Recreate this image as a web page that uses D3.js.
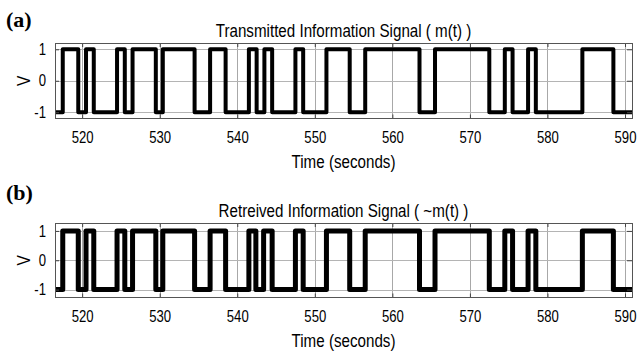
<!DOCTYPE html>
<html>
<head>
<meta charset="utf-8">
<script src="https://cdn.jsdelivr.net/npm/d3@7"></script>
<style>
  body { margin: 0; background: #fff; }
  text { font-family: "Liberation Sans", Arial, sans-serif; fill: #000; }
</style>
</head>
<body>
<script>
"use strict";
const width = 640, height = 354;
const plotLeft = 55, plotRight = 632;
const squeeze = 0.82; // narrow font look

// axis values
const xDomain = [516.5, 590.9];
const xTicks = [520, 530, 540, 550, 560, 570, 580, 590];
const yTicks = [-1, 0, 1];

// transmitted signal m(t): switching times and the level held from each time on
const txEdges = [516.5, 517.5, 519.5, 520.5, 521.5, 524.5, 525.5, 526.5, 529.5, 530.4, 534.5,
    536.5, 538.5, 541.5, 542.5, 543.5, 544.5, 547.5, 548.5, 551.5, 554.5, 556.5, 563.5,
    565.5, 572.5, 574.5, 575.5, 577.5, 578.5, 584.5, 588.5, 590.9];
const txLevels = [-1, 1, -1, 1, -1, 1, -1, 1, -1, 1, -1,
    1, -1, 1, -1, 1, -1, 1, -1, 1, -1, 1, -1,
    1, -1, 1, -1, 1, -1, 1, -1, -1];

// retrieved signal ~m(t)
const rxEdges = [516.5, 517.5, 519.5, 520.5, 521.5, 524.5, 525.5, 526.5, 529.5, 530.4, 534.5,
    536.5, 538.5, 541.5, 542.4, 543.4, 544.5, 547.5, 548.5, 551.5, 554.5, 556.5, 563.5,
    565.5, 572.5, 574.5, 575.5, 577.5, 578.5, 584.5, 588.5, 590.9];
const rxLevels = [-1, 1, -1, 1, -1, 1, -1, 1, -1, 1, -1,
    1, -1, 1, -1, 1, -1, 1, -1, 1, -1, 1, -1,
    1, -1, 1, -1, 1, -1, 1, -1, -1];

const panels = [
    {
        tag: "(a)", tagY: 27,
        title: "Transmitted Information Signal ( m(t) )",
        top: 43, bottom: 118.5, yDomain: [-1.2, 1.2],
        edges: txEdges, levels: txLevels, lineWidth: 4
    },
    {
        tag: "(b)", tagY: 200,
        title: "Retreived Information Signal ( ~m(t) )",
        top: 223, bottom: 297.5, yDomain: [-1.27, 1.27],
        edges: rxEdges, levels: rxLevels, lineWidth: 5
    }
];

const svg = d3.select("body")
    .append("svg")
    .attr("width", width)
    .attr("height", height);

svg.append("rect")
    .attr("width", width)
    .attr("height", height)
    .attr("fill", "#fff");

panels.forEach(drawPanel);

function drawPanel(p) {
    const x = d3.scaleLinear().domain(xDomain).range([plotLeft, plotRight]);
    const y = d3.scaleLinear().domain(p.yDomain).range([p.bottom, p.top]);
    const h = p.bottom - p.top;
    const g = svg.append("g");

    // grid
    g.append("g")
        .attr("transform", `translate(0,${p.bottom})`)
        .call(d3.axisBottom(x).tickValues(xTicks).tickSize(-h).tickFormat(""))
        .call(a => a.select(".domain").remove())
        .selectAll("line")
        .attr("stroke", "#a8a8a8")
        .attr("shape-rendering", "crispEdges");
    g.append("g")
        .attr("transform", `translate(${plotLeft},0)`)
        .call(d3.axisLeft(y).tickValues(yTicks).tickSize(-(plotRight - plotLeft)).tickFormat(""))
        .call(a => a.select(".domain").remove())
        .selectAll("line")
        .attr("stroke", "#b4b4b4")
        .attr("shape-rendering", "crispEdges");

    // signal
    const pts = p.edges.map((t, i) => [t, p.levels[i]]);
    const line = d3.line()
        .x(d => x(d[0]))
        .y(d => y(d[1]))
        .curve(d3.curveStepAfter);
    g.append("path")
        .attr("d", line(pts))
        .attr("fill", "none")
        .attr("stroke", "#000")
        .attr("stroke-width", p.lineWidth)
        .attr("stroke-linejoin", "round");

    // axes (plain hyphen for negatives, like the original)
    const fmt = d => String(d);
    const xAxis = g.append("g")
        .attr("transform", `translate(0,${p.bottom})`)
        .call(d3.axisBottom(x).tickValues(xTicks).tickSize(-4).tickPadding(13.5).tickFormat(fmt));
    const yAxis = g.append("g")
        .attr("transform", `translate(${plotLeft},0)`)
        .call(d3.axisLeft(y).tickValues(yTicks).tickSize(-4).tickPadding(9).tickFormat(fmt));
    g.append("g")
        .attr("transform", `translate(${plotRight},0)`)
        .call(d3.axisRight(y).tickValues(yTicks).tickSize(-5).tickFormat(""));
    g.append("g")
        .attr("transform", `translate(0,${p.top})`)
        .call(d3.axisTop(x).tickValues(xTicks).tickSize(-4).tickFormat(""));

    g.selectAll(".domain").remove();
    g.selectAll(".tick line").filter(function () {
        return !this.getAttribute("stroke") || this.getAttribute("stroke") === "currentColor";
    }).attr("stroke", "#444");

    xAxis.selectAll("text")
        .style("font-size", "16px")
        .attr("transform", `scale(${squeeze},1)`);
    yAxis.selectAll("text")
        .style("font-size", "16px")
        .attr("x", -9 / squeeze)
        .attr("transform", `scale(${squeeze},1)`);

    // box
    g.append("rect")
        .attr("x", plotLeft)
        .attr("y", p.top)
        .attr("width", plotRight - plotLeft)
        .attr("height", h)
        .attr("fill", "none")
        .attr("stroke", "#555")
        .attr("stroke-width", 1)
        .attr("shape-rendering", "crispEdges");

    const cx = (plotLeft + plotRight) / 2;

    g.append("text")
        .attr("transform", `translate(${cx},${p.top - 6.5}) scale(${squeeze},1)`)
        .attr("text-anchor", "middle")
        .style("font-size", "18.5px")
        .text(p.title);

    g.append("text")
        .attr("transform", `translate(${cx},${p.bottom + 49.5}) scale(${squeeze},1)`)
        .attr("text-anchor", "middle")
        .style("font-size", "18.5px")
        .text("Time (seconds)");

    g.append("text")
        .attr("transform", `translate(30,${(p.top + p.bottom) / 2}) rotate(-90) scale(${squeeze},1)`)
        .attr("text-anchor", "middle")
        .style("font-size", "19px")
        .text("V");

    g.append("text")
        .attr("x", 6)
        .attr("y", p.tagY)
        .style("font-family", "'Liberation Serif', 'DejaVu Serif', serif")
        .style("font-weight", "bold")
        .style("font-size", "22px")
        .text(p.tag);
}
</script>
</body>
</html>
